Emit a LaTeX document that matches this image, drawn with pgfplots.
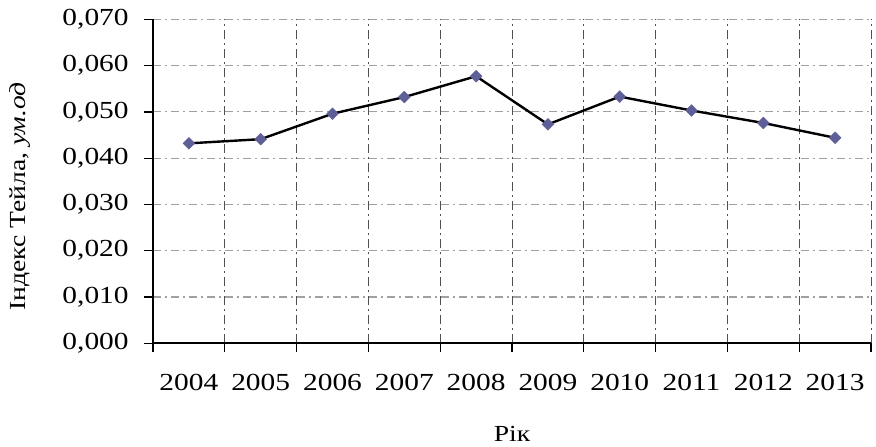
\documentclass[border=0pt]{standalone}
\usepackage{pgfplots}
\pgfplotsset{compat=1.18}
\usepackage{fontspec}
\setmainfont{Liberation Serif}[FakeStretch=1.2]
\definecolor{mk}{HTML}{5E5E98}
\definecolor{hg}{HTML}{A0A0A0}
\definecolor{vg}{HTML}{505050}
\begin{document}
\fontsize{24.5bp}{29bp}\selectfont
\begin{tikzpicture}
\path[use as bounding box] (-153bp,-103.7bp) rectangle (723bp,343.3bp);
\begin{axis}[
  at={(0,0)}, anchor=south west,
  scale only axis, width=718bp, height=324bp,
  xmin=0, xmax=10, ymin=0, ymax=0.07,
  axis lines=left,
  axis line style={line width=1.7bp, -},
  xtick={0,...,10},
  xticklabels={2004,2005,2006,2007,2008,2009,2010,2011,2012,2013},
  x tick label as interval=true,
  ytick={0,0.01,...,0.07},
  tick align=outside,
  major tick length=9bp,
  tick style={line width=1.3bp, black},
  ymajorgrids, xmajorgrids,
  y grid style={hg, line width=1.2bp, dash pattern=on 8bp off 4bp on 2bp off 4bp},
  x grid style={vg, line width=1bp, dash pattern=on 9bp off 4bp on 2bp off 4bp},
  /pgf/number format/assume math mode=true,
  yticklabel={\pgfmathprintnumber[fixed, fixed zerofill, precision=3, use comma]{\tick}},
  scaled y ticks=false,
  ticklabel style={font=\fontsize{24.5bp}{29bp}\selectfont},
  xticklabel style={yshift=-14bp},
  yticklabel style={xshift=-7bp},
  xlabel={Рік},
  ylabel={Індекс Тейла, \textit{ум.од}},
  label style={font=\fontsize{23bp}{28bp}\selectfont},
  ylabel style={at={(rel axis cs:-0.1852,0.453)}, anchor=center},
  xlabel style={at={(rel axis cs:0.5,0)}, anchor=base, yshift=-98bp},
  clip=false,
]
\addplot[black, line width=2.4bp, mark=square*, mark size=4.2bp,
  mark options={mk, draw=mk, line width=0.4bp, rotate=45}] coordinates {
  (0.5,0.0432) (1.5,0.0441) (2.5,0.0496) (3.5,0.0532) (4.5,0.0577)
  (5.5,0.0473) (6.5,0.0533) (7.5,0.0503) (8.5,0.0476) (9.5,0.0444)
};
\end{axis}
\end{tikzpicture}
\end{document}
